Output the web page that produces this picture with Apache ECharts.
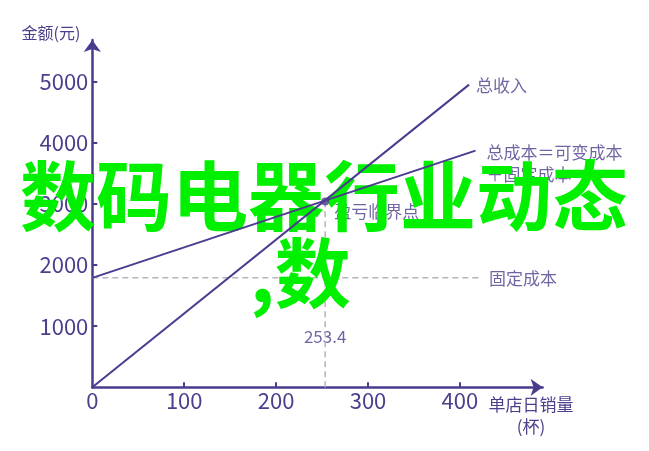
<!DOCTYPE html>
<html>
<head>
<meta charset="utf-8">
<script src="https://cdn.jsdelivr.net/npm/echarts@6/dist/echarts.min.js"></script>
<style>
html,body{margin:0;padding:0;background:#fff;}
#main{width:649px;height:451px;}
</style>
</head>
<body>
<div id="main"></div>
<script>
// ---- data ----
const xTicks = [0, 100, 200, 300, 400];
const yTicks = [1000, 2000, 3000, 4000, 5000];
const revenue = [[0, 0], [410, 4950]];
const totalCost = [[0, 1790], [417, 3870]];
const fixedCost = [[0, 1790], [424, 1790]];
const breakEven = [253.4, 3040];
const lineNames = ['总收入', '总成本＝可变成本\n＋固定成本', '固定成本'];
const breakEvenName = '盈亏临界点';
const xName = '单店日销量\n(杯)';
const yName = '金额(元)';
const overlayLines = ['数码电器行业动态', ',数'];

// ---- styles ----
const PURPLE = '#4b3b8f';
const TEXT = '#4b3f8c';
const GREY = '#b3b3bd';
const FONT = '"Noto Sans CJK SC", "Noto Sans", sans-serif';
const GREEN = '#00f000';

const chart = echarts.init(document.getElementById('main'), null, {renderer: 'canvas'});

function carrier(point, text, distance, offset, z) {
  return {
    type: 'scatter',
    z: z,
    silent: true,
    symbol: 'circle',
    symbolSize: 0.01,
    itemStyle: {color: 'transparent'},
    data: [point],
    label: {
      show: true,
      position: 'right',
      distance: distance,
      offset: offset,
      formatter: text,
      color: TEXT,
      fontSize: 17,
      lineHeight: 22,
      fontFamily: FONT,
      align: 'left'
    }
  };
}

const plain = function (v) { return String(v); };

const option = {
  backgroundColor: '#ffffff',
  animation: false,
  grid: {
    left: 92.3, top: 40, right: 106.4, bottom: 63.7,
    containLabel: false,
    outerBoundsMode: 'none'
  },
  xAxis: {
    type: 'value',
    min: 0, max: 490, interval: 100,
    axisLine: {
      show: true, onZero: false,
      symbol: ['none', 'arrow'], symbolSize: [13, 12],
      lineStyle: {color: PURPLE, width: 2.5}
    },
    axisTick: {show: true, inside: true, length: 5, lineStyle: {color: PURPLE, width: 2}, customValues: xTicks.slice(1)},
    axisLabel: {customValues: xTicks, formatter: plain, color: TEXT, fontSize: 22, fontFamily: FONT, margin: 2},
    splitLine: {show: false}
  },
  yAxis: {
    type: 'value',
    min: 0, max: 5680, interval: 1000,
    axisLine: {
      show: true, onZero: false,
      symbol: ['none', 'arrow'], symbolSize: [13, 12],
      lineStyle: {color: PURPLE, width: 2.5}
    },
    axisTick: {show: true, inside: true, length: 5, lineStyle: {color: PURPLE, width: 2}, customValues: yTicks},
    axisLabel: {customValues: yTicks, formatter: plain, color: TEXT, fontSize: 22, fontFamily: FONT, margin: 4},
    splitLine: {show: false}
  },
  graphic: [
    {type: 'text', z: 3, x: 51, y: 33, style: {text: yName, fill: TEXT, font: '16px ' + FONT, textAlign: 'center', textVerticalAlign: 'middle'}},
    {type: 'text', z: 3, x: 531, y: 394, style: {text: xName, fill: TEXT, font: '17px ' + FONT, textAlign: 'center', textVerticalAlign: 'top', lineHeight: 22}},
    {type: 'text', z: 3, x: 20, y: 196, style: {text: overlayLines[0], fill: GREEN, font: 'bold 76px ' + FONT, textAlign: 'left', textVerticalAlign: 'middle'}},
    {type: 'text', z: 3, x: 250, y: 273, style: {text: overlayLines[1], fill: GREEN, font: 'bold 76px ' + FONT, textAlign: 'left', textVerticalAlign: 'middle'}}
  ],
  series: [
    {
      type: 'line', z: 2, silent: true, symbol: 'none',
      data: fixedCost,
      lineStyle: {color: GREY, width: 1.5, type: [6, 4]}
    },
    {
      type: 'line', z: 2, silent: true, symbol: 'none',
      data: [[breakEven[0], 0], [breakEven[0], breakEven[1]]],
      lineStyle: {color: GREY, width: 1.5, type: [6, 4]}
    },
    {
      type: 'line', z: 5, silent: true, symbol: 'none',
      data: revenue,
      lineStyle: {color: PURPLE, width: 2}
    },
    {
      type: 'line', z: 5, silent: true, symbol: 'none',
      data: totalCost,
      lineStyle: {color: PURPLE, width: 2}
    },
    {
      type: 'scatter', z: 5, silent: true,
      symbol: 'circle', symbolSize: 8,
      itemStyle: {color: PURPLE},
      data: [breakEven]
    },
    carrier(revenue[revenue.length - 1], lineNames[0], 7, [0, 1], 1),
    carrier(totalCost[totalCost.length - 1], lineNames[1], 11, [0, 12.5], 1),
    carrier(fixedCost[fixedCost.length - 1], lineNames[2], 7, [0, 1], 1),
    carrier(breakEven, breakEvenName, 9, [0, 10], 1),
    {
      type: 'scatter', z: 1, silent: true,
      symbol: 'circle', symbolSize: 0.01,
      itemStyle: {color: 'transparent'},
      data: [[breakEven[0], 0]],
      label: {
        show: true, position: 'top', distance: 42,
        formatter: function (p) { return String(p.value[0]); },
        color: TEXT, fontSize: 17, fontFamily: FONT
      }
    }
  ]
};
chart.setOption(option);
</script>
</body>
</html>
